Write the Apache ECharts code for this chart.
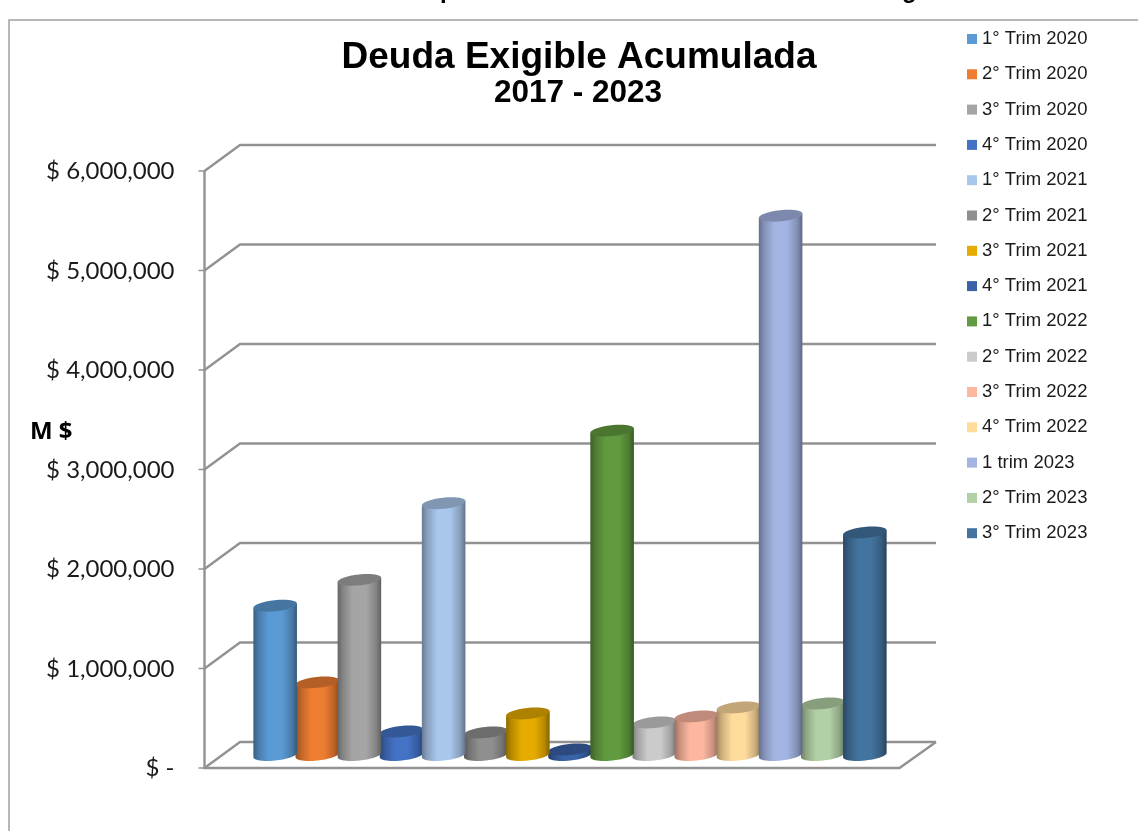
<!DOCTYPE html>
<html>
<head>
<meta charset="utf-8">
<style>
  html, body { margin: 0; padding: 0; background: #fff; }
  #chart { width: 1138px; height: 831px; }
</style>
<script src="https://cdn.jsdelivr.net/npm/echarts@6/dist/echarts.min.js"></script>
</head>
<body>
<div id="chart"></div>
<script>
// periodos (una serie por trimestre, igual que el original)
var quarters = ['1° Trim 2020', '2° Trim 2020', '3° Trim 2020', '4° Trim 2020',
  '1° Trim 2021', '2° Trim 2021', '3° Trim 2021', '4° Trim 2021',
  '1° Trim 2022', '2° Trim 2022', '3° Trim 2022', '4° Trim 2022',
  '1 trim 2023', '2° Trim 2023', '3° Trim 2023'];
var debt = [1500000, 730000, 1760000, 236000,
  2530000, 226000, 417000, 55000,
  3260000, 327000, 387000, 477000,
  5420000, 518000, 2236000];
var colors = ['#5b9bd5', '#ed7d31', '#a5a5a5', '#4472c4',
  '#a9c6ec', '#8f8f8f', '#e5ab00', '#3a62a8',
  '#629b3f', '#cbcbcb', '#fdb7a0', '#ffdb9c',
  '#a3b4e2', '#b2d0a5', '#43739f'];
var tickValues = [0, 1000000, 2000000, 3000000, 4000000, 5000000, 6000000];
var tickLabels = ['$ -', '$ 1,000,000', '$ 2,000,000', '$ 3,000,000', '$ 4,000,000', '$ 5,000,000', '$ 6,000,000'];

var chart = echarts.init(document.getElementById('chart'));

var DEPTH_X = 18, DEPTH_Y = 13;
var GRID_COLOR = '#929292';

function shade(hex, f) {
  var n = parseInt(hex.slice(1), 16);
  var r = Math.round((n >> 16) * f), g = Math.round(((n >> 8) & 255) * f), b = Math.round((n & 255) * f);
  return 'rgb(' + r + ',' + g + ',' + b + ')';
}

// paredes, piso y marcas del eje (plano medio = grid, se desplaza hacia adelante/atras)
function renderFrame(params, api) {
  var y = api.coord([0, api.value(0)])[1];
  var left = params.coordSys.x, right = params.coordSys.x + params.coordSys.width;
  var fl = left - DEPTH_X, bl = left + DEPTH_X - 0.5, br = right + DEPTH_X + 0.5, fr = right - DEPTH_X;
  var style = { stroke: GRID_COLOR, lineWidth: 2.4, fill: null };
  var kids = [
    { type: 'polyline', shape: { points: [[fl, y + DEPTH_Y], [bl, y - DEPTH_Y], [br, y - DEPTH_Y]] }, style: style },
    { type: 'line', shape: { x1: fl - 6, y1: y + DEPTH_Y, x2: fl, y2: y + DEPTH_Y }, style: { stroke: GRID_COLOR, lineWidth: 1.5 } }
  ];
  if (api.value(0) === 0) {
    var top = api.coord([0, 6000000])[1];
    kids.push({ type: 'polyline', shape: { points: [[fl, top + DEPTH_Y], [fl, y + DEPTH_Y], [fr, y + DEPTH_Y], [br, y - DEPTH_Y]] }, style: style });
  }
  return { type: 'group', children: kids };
}

// cilindro con elipses un poco inclinadas como en el 3D de Excel
function renderCylinder(params, api) {
  var base = api.coord([api.value(0), 0]);
  var topP = api.coord([api.value(0), api.value(1)]);
  var a = api.size([1, 0])[0] * 0.52, b = 5.5, tilt = -6 * Math.PI / 180;
  var color = colors[params.seriesIndex - 1];
  var pts = [];
  for (var i = 0; i <= 24; i++) {
    var t = Math.PI * i / 24;
    pts.push([base[0] + a * Math.cos(t) * Math.cos(tilt) - b * Math.sin(t) * Math.sin(tilt),
      base[1] + a * Math.cos(t) * Math.sin(tilt) + b * Math.sin(t) * Math.cos(tilt)]);
  }
  var dx = a * Math.cos(tilt), dy = a * Math.sin(tilt);
  pts.push([topP[0] - dx, topP[1] - dy], [topP[0] + dx, topP[1] + dy]);
  var grad = new echarts.graphic.LinearGradient(0, 0, 1, 0, [
    { offset: 0, color: shade(color, 0.62) },
    { offset: 0.12, color: shade(color, 0.8) },
    { offset: 0.35, color: color },
    { offset: 0.65, color: color },
    { offset: 0.88, color: shade(color, 0.8) },
    { offset: 1, color: shade(color, 0.58) }
  ]);
  return {
    type: 'group',
    children: [
      { type: 'polygon', shape: { points: pts }, style: { fill: grad } },
      {
        type: 'ellipse',
        x: topP[0], y: topP[1], rotation: -tilt,
        shape: { cx: 0, cy: 0, rx: a, ry: b },
        style: { fill: shade(color, 0.76) }
      }
    ]
  };
}

var seriesList = [{
  name: 'frame',
  type: 'custom',
  silent: true,
  z: 1,
  clip: false,
  renderItem: renderFrame,
  encode: { y: 0 },
  data: tickValues.map(function (v) { return [v]; })
}];
quarters.forEach(function (q, i) {
  seriesList.push({
    name: q,
    type: 'custom',
    clip: false,
    z: 2 + debt[i] / 1000000,  // las columnas altas quedan por delante
    itemStyle: { color: colors[i] },
    renderItem: renderCylinder,
    encode: { x: 0, y: 1 },
    data: [[i + 1, debt[i]]]
  });
});

var option = {
  backgroundColor: '#fff',
  animation: false,
  title: [
    { text: 'Deuda Exigible Acumulada', left: 574, top: 34, textAlign: 'center',
      textStyle: { fontFamily: 'Liberation Sans', fontSize: 37, fontWeight: 'bold', color: '#000' } },
    { text: '2017 - 2023', left: 573, top: 72, textAlign: 'center',
      textStyle: { fontFamily: 'Liberation Sans', fontSize: 31.5, fontWeight: 'bold', color: '#000' } }
  ],
  legend: {
    orient: 'vertical',
    left: 967,
    top: 29,
    padding: 0,
    itemWidth: 10,
    itemHeight: 10,
    itemGap: 15.3,
    icon: 'rect',
    selectedMode: false,
    data: quarters,
    textStyle: { fontFamily: 'Liberation Sans', fontSize: 18.5, lineHeight: 20, color: '#1a1a1a' }
  },
  grid: { left: 222.5, top: 158, width: 695, height: 597 },
  xAxis: { type: 'value', min: -0.25, max: 16.25, show: false },
  yAxis: {
    type: 'value',
    min: 0,
    max: 6000000,
    interval: 1000000,
    axisLine: { show: false },
    axisTick: { show: false },
    splitLine: { show: false },
    axisLabel: {
      margin: 48,
      fontFamily: 'Lato',
      fontSize: 24,
      lineHeight: 27,
      verticalAlign: 'top',
      color: '#1a1a1a',
      formatter: function (v) { return tickLabels[tickValues.indexOf(v)]; }
    }
  },
  graphic: [
    { type: 'polyline', silent: true, shape: { points: [[9, 831], [9, 20], [1138, 20]] },
      style: { stroke: '#a0a0a0', lineWidth: 1.5, fill: null } },
    { type: 'text', x: 30, y: 420,
      style: { text: 'M $', font: 'bold 24px "Open Sans"', fill: '#000' } },
    // colas del titulo superior, cortado por el borde de la pagina
    { type: 'text', x: 440, y: -21, silent: true,
      style: { text: 'p', font: 'bold 24px "Liberation Sans"', fill: '#000' } },
    { type: 'text', x: 902, y: -21, silent: true,
      style: { text: 'g', font: 'bold 24px "Liberation Sans"', fill: '#000' } }
  ],
  series: seriesList
};
chart.setOption(option);
</script>
</body>
</html>
